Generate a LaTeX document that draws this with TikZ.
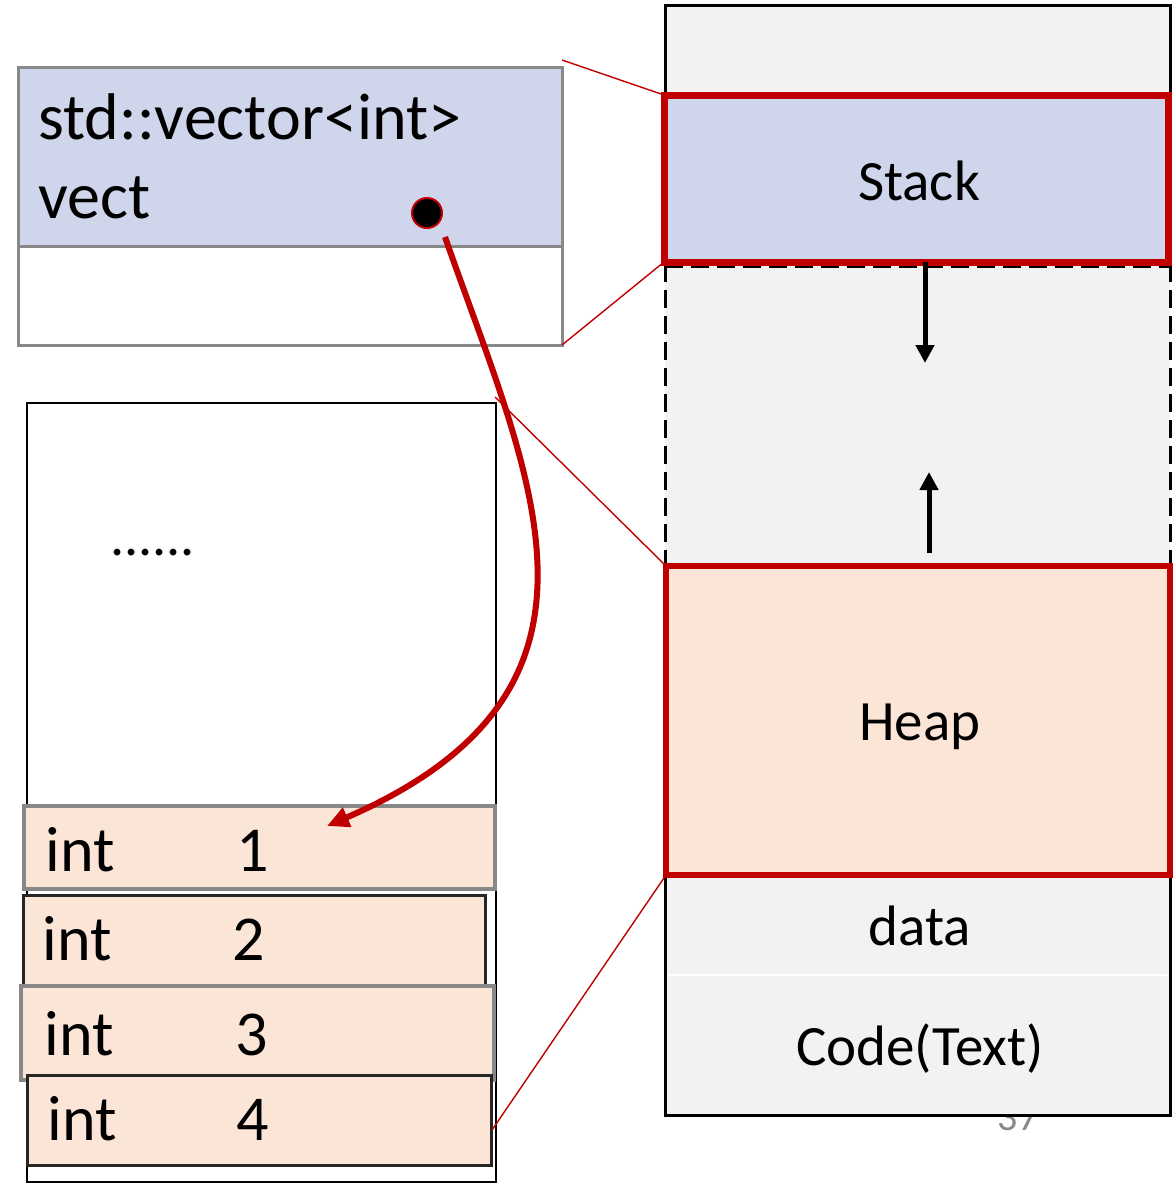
\documentclass[tikz,border=0pt]{standalone}
\usepackage{fontspec}
\setmainfont{Carlito}
\usetikzlibrary{arrows.meta,fit}
\definecolor{memred}{HTML}{C00000}
\definecolor{stackblue}{HTML}{CFD5EA}
\definecolor{heapsand}{HTML}{FBE5D6}
\definecolor{segray}{HTML}{F2F2F2}
\definecolor{rimgray}{HTML}{888888}
\definecolor{rimdark}{HTML}{262626}
\newcommand{\fsz}[1]{\fontsize{#1}{1.2\dimexpr#1pt\relax}\selectfont}
\begin{document}
\begin{tikzpicture}[x=0.5pt,y=-0.5pt,
  region/.style={rectangle, inner sep=0pt, outer sep=0pt},
  segtext/.style={font=\fsz{28.5}, inner sep=0pt, anchor=base},
  bigtext/.style={font=\fsz{33}, inner sep=0pt, anchor=base west},
  digit/.style={font=\fsz{32}, inner sep=0pt, anchor=base},
  memframe/.style={draw=memred, line width=3.5pt},
  zoomline/.style={draw=memred, line width=0.7pt},
  growarrow/.style={line width=2.5pt, -{Triangle[length=9pt,width=9pt]}},
  cellgray/.style={region, fill=heapsand, draw=rimgray, line width=2pt},
  celldark/.style={region, fill=heapsand, draw=rimdark, line width=1.5pt}]
\useasboundingbox (0,0) rectangle (1176,1184);

% slide number, partly hidden behind the memory column
\node[font=\fsz{20}, text=rimgray, inner sep=0pt, anchor=base] (pagenum) at (1018,1130) {37};

% memory layout column
\node[region, fill=segray, fit={(665,5) (1170,1115)}] (column) {};
\draw[line width=1.5pt] (665,95) |- (1170,5) -- (1170,95);
\draw[line width=1.5pt, dashed, dash pattern=on 9pt off 4pt] (665,264) -- (665,566);
\draw[line width=1.5pt, dashed, dash pattern=on 9pt off 4pt] (1170,264) -- (1170,566);
\draw[line width=1.5pt, dashed, dash pattern=on 9pt off 4pt] (665,266) -- (1170,266);
\draw[line width=1.5pt] (665,875) |- (1170,1115) -- (1170,875);
\draw[white, line width=1pt] (668,975) -- (1167,975);

\node[region, fill=stackblue, memframe, fit={(664,95) (1168,262)}] (stack) {};
\node[region, fill=heapsand, memframe, line width=3pt, fit={(666,566) (1170,875)}] (heap) {};
\node[segtext] (stacklbl) at (919,200) {Stack};
\node[segtext] (heaplbl) at (920,740) {Heap};
\node[segtext] (datalbl) at (920,945) {data};
\node[segtext] (codelbl) at (920,1065) {Code(Text)};

% growth directions of stack and heap
\coordinate (stackgrow) at (925,363);
\coordinate (heapgrow) at (929,472);
\draw[growarrow] ([xshift=4.5pt]stack.south) -- (stackgrow);
\draw[growarrow] (929,553) coordinate (heaptop) -- (heapgrow);

% the vector object on the stack
\node[region, fill=white, draw=rimgray, line width=1.5pt, fit={(18,67) (562,345)}] (vecbox) {};
\node[region, fill=stackblue, draw=rimgray, line width=1.5pt, fit={(18,67) (562,246)}] (vecfield) {};
\node[bigtext] (vtype) at (38,139) {std::vector<int>};
\node[bigtext] (vname) at (38,218) {vect};
\node[circle, fill=black, draw=memred, line width=1pt, inner sep=0pt, minimum size=15pt] (ptr) at (427,213) {};

% heap block holding the elements
\node[region, draw=black, line width=1.25pt, fit={(27,403) (496,1182)}] (block) {};
\node[font=\fsz{28}, inner sep=0pt, anchor=base west] (dots) at (110,555) {......};

\node[cellgray, fit={(24,806) (495,889)}] (cell1) {};
\node[celldark, fit={(23,895) (485,985)}] (cell2) {};
\node[cellgray, fit={(21,986) (494,1080)}] (cell3) {};
\node[celldark, fit={(27,1075) (491,1165)}] (cell4) {};

\node[bigtext, font=\fsz{32}] (t1) at (45,871) {int};
\node[digit] (v1) at (253,871) {1};
\node[bigtext, font=\fsz{32}] (t2) at (42,960) {int};
\node[digit] (v2) at (249,960) {2};
\node[bigtext, font=\fsz{32}] (t3) at (44,1055) {int};
\node[digit] (v3) at (252,1055) {3};
\node[bigtext, font=\fsz{32}] (t4) at (47,1140) {int};
\node[digit] (v4) at (253,1140) {4};

% zoom guide lines
\coordinate (z1) at (562,60);
\coordinate (z3) at (495,397);
\coordinate (z4) at (492,1130);
\draw[zoomline] (z1) -- (stack.north west);
\draw[zoomline] (vecbox.south east) -- (stack.south west);
\draw[zoomline] (z3) -- (heap.north west);
\draw[zoomline] (z4) -- (heap.south west);

% pointer from vect to the first element
\coordinate (pstart) at (445,237);
\coordinate (pend) at (327,826);
\draw[memred, line width=3pt, -{Triangle[length=11pt,width=10pt]}]
  (pstart) .. controls (530,480) and (640,690) .. (pend);
\end{tikzpicture}
\end{document}
